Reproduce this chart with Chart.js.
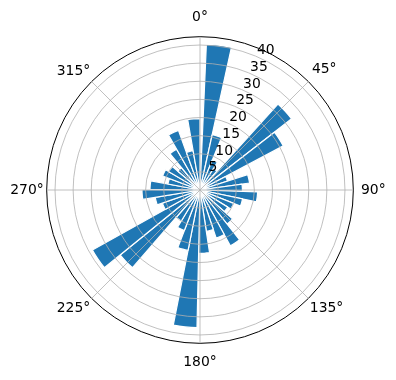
<!DOCTYPE html>
<html>
<head>
<meta charset="utf-8">
<script src="https://cdn.jsdelivr.net/npm/chart.js@4/dist/chart.umd.min.js"></script>
<style>
  html, body { margin: 0; padding: 0; background: #fff; }
  #wrap { width: 396px; height: 380px; position: relative; }
</style>
</head>
<body>
<div id="wrap"><canvas id="c"></canvas></div>
<script>
// ---- data ----
const thetaLabels = ['0°', '45°', '90°', '135°', '180°', '225°', '270°', '315°'];
const rTickValues = [5, 10, 15, 20, 25, 30, 35, 40];
// 36 direction bins, clockwise from about 2.5° to 360°
const binCounts = [
  40.3, 15.6, 9, 7, 32, 26, 8, 13.8, 11.7,
  15.9, 12, 10, 9, 12, 17.5, 14, 11.5, 17.5,
  38, 17, 12, 10, 28.4, 34, 11, 12.5, 16,
  13.8, 9, 11, 10, 8, 13, 17.5, 11, 19.7
];
const binRange = [2.5, 360];   // angular range covered by the bins (degrees)
const rMax = 42.3;

// angle grid: one slot every 2.5°, starting at binRange[0]; only multiples of 45° get a label
const slot = 2.5;
const nSlots = Math.round(360 / slot);
const slotLabels = Array.from({ length: nSlots }, (_, i) => {
  const a = binRange[0] + slot * i;
  const m = Math.round(a) % 360;
  return (Math.abs(a - Math.round(a)) < 1e-6 && m % 45 === 0) ? thetaLabels[m / 45] : '';
});

const labelPad = { '0°': 11, '180°': 10.5, '90°': 7.7, '270°': 3, '45°': 5, '135°': 2, '225°': 2, '315°': 2 };

Chart.defaults.font.family = 'DejaVu Sans';
Chart.defaults.font.size = 13.9;
Chart.defaults.color = '#000';

const rLabelPlugin = {
  id: 'rLabels',
  afterDraw(chart) {
    const s = chart.scales.r;
    const ctx = chart.ctx;
    const a = 22.5 * Math.PI / 180;
    ctx.save();
    ctx.font = '13.9px "DejaVu Sans"';
    ctx.fillStyle = '#000';
    ctx.textAlign = 'left';
    ctx.textBaseline = 'alphabetic';
    rTickValues.forEach(v => {
      const d = s.getDistanceFromCenterForValue(v);
      const x = s.xCenter + d * Math.sin(a);
      const y = s.yCenter - d * Math.cos(a);
      ctx.fillText(String(v), x + 1.5, y - 2);
    });
    ctx.restore();
  }
};

new Chart(document.getElementById('c'), {
  type: 'polarArea',
  data: {
    labels: slotLabels,
    datasets: [{
      data: binCounts,
      backgroundColor: '#1f77b4',
      borderColor: '#ffffff',
      borderWidth: 1.2,
      borderJoinStyle: 'bevel',
      angle: (binRange[1] - binRange[0]) / binCounts.length
    }]
  },
  options: {
    responsive: true,
    maintainAspectRatio: false,
    animation: false,
    devicePixelRatio: 1,
    layout: { padding: { left: 8, right: 8, top: 9, bottom: 9 } },
    plugins: { legend: { display: false }, tooltip: { enabled: false } },
    scales: {
      r: {
        min: 0,
        max: rMax,
        startAngle: binRange[0],
        beginAtZero: true,
        ticks: { display: false, stepSize: 5 },
        grid: {
          circular: true,
          z: 1,
          color: (c) => (c.tick && c.tick.value >= rMax - 1e-6) ? '#000000' : '#b0b0b0',
          lineWidth: (c) => (c.tick && c.tick.value >= rMax - 1e-6) ? 1 : 0.8
        },
        angleLines: {
          display: true,
          color: '#b0b0b0',
          lineWidth: (c) => c.label ? 0.8 : 0
        },
        pointLabels: {
          display: true,
          color: '#000',
          font: { family: 'DejaVu Sans', size: 13.9 },
          padding: (c) => labelPad[c.label] !== undefined ? labelPad[c.label] : 0
        }
      }
    }
  },
  plugins: [rLabelPlugin]
});
</script>
</body>
</html>
